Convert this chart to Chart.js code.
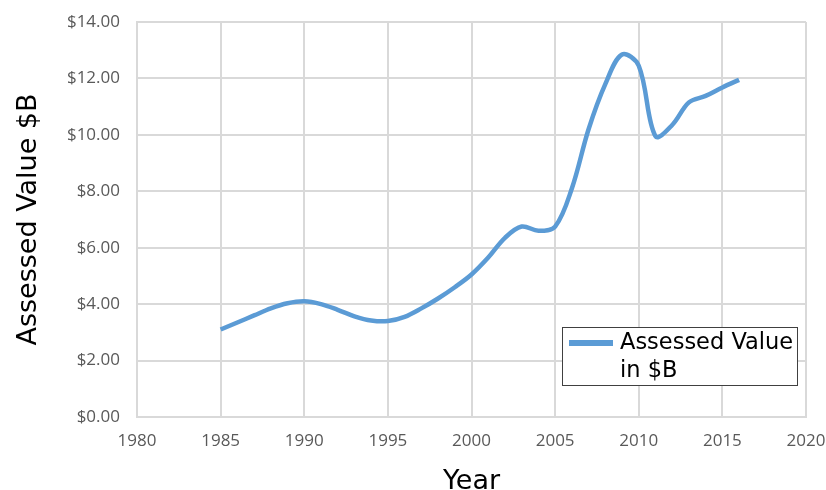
<!DOCTYPE html>
<html>
<head>
<meta charset="utf-8">
<script src="https://cdn.jsdelivr.net/npm/chart.js@4/dist/chart.umd.min.js"></script>
<style>
  html, body { margin: 0; padding: 0; background: #fff; }
  #wrap { width: 826px; height: 490px; }
</style>
</head>
<body>
<div id="wrap"><canvas id="chart"></canvas></div>
<script>
// assessed value by year ($B)
const years = [1985, 1986, 1987, 1988, 1989, 1990, 1991, 1992, 1993, 1994, 1995, 1996, 1997, 1998, 1999, 2000,
               2001, 2002, 2003, 2004, 2005, 2006, 2007, 2008, 2009, 2010, 2011, 2012, 2013, 2014, 2015, 2016];
const values = [3.1, 3.35, 3.6, 3.85, 4.03, 4.1, 4.0, 3.8, 3.57, 3.42, 3.4, 3.55, 3.85, 4.2, 4.6, 5.05,
                5.65, 6.35, 6.75, 6.6, 6.75, 8.1, 10.2, 11.8, 12.85, 12.45, 9.95, 10.35, 11.15, 11.38, 11.68, 11.95];
const seriesLabel = ['Assessed Value', 'in $B'];
const xTicks = [1980, 2020, 5];
const yTicks = [0, 14, 2];

const gridGray = '#d9d9d9';
const tickGray = '#595959';

// legend box drawn inside the plot, bottom right
const insideLegend = {
  id: 'insideLegend',
  afterDraw(chart) {
    const { ctx, chartArea } = chart;
    const right = chartArea.right - 9, bottom = chartArea.bottom - 32;
    const w = 235, h = 58;
    const left = right - w, top = bottom - h;
    ctx.save();
    ctx.fillStyle = '#fff';
    ctx.fillRect(left, top, w, h);
    ctx.strokeStyle = '#404040';
    ctx.lineWidth = 1;
    ctx.strokeRect(left + 0.5, top + 0.5, w, h);
    ctx.strokeStyle = '#5b9bd5';
    ctx.lineWidth = 6;
    ctx.beginPath();
    ctx.moveTo(left + 7, top + 16);
    ctx.lineTo(left + 51, top + 16);
    ctx.stroke();
    ctx.fillStyle = '#000';
    ctx.font = '22.5px "DejaVu Sans"';
    ctx.textBaseline = 'middle';
    ctx.fillText(seriesLabel[0], left + 58, top + 16);
    ctx.fillText(seriesLabel[1], left + 58, top + 44);
    ctx.restore();
  }
};

const data = {
  datasets: [{
    label: seriesLabel.join(' '),
    data: years.map((y, i) => ({ x: y, y: values[i] })),
    borderColor: '#5b9bd5',
    borderWidth: 4.5,
    pointRadius: 0,
    fill: false,
    tension: 0.35
  }]
};

const config = {
  type: 'line',
  data: data,
  options: {
    responsive: true,
    maintainAspectRatio: false,
    animation: false,
    layout: { padding: { top: 22, right: 20, left: 0, bottom: 0 } },
    plugins: {
      legend: { display: false },
      tooltip: { enabled: false }
    },
    scales: {
      x: {
        type: 'linear',
        min: xTicks[0], max: xTicks[1],
        afterFit(scale) { scale.height = 73; scale.paddingLeft = 0; scale.paddingRight = 0; },
        grid: { color: gridGray, lineWidth: 2, drawTicks: false },
        border: { color: gridGray, width: 2 },
        ticks: {
          stepSize: xTicks[2], padding: 14, color: tickGray,
          font: { family: '"Open Sans"', size: 17 },
          callback: v => String(v)
        },
        title: {
          display: true, text: 'Year', color: '#000',
          font: { family: '"DejaVu Sans"', size: 27, lineHeight: 1.0 },
          padding: { top: 4, bottom: -5 }
        }
      },
      y: {
        min: yTicks[0], max: yTicks[1],
        afterFit(scale) { scale.width = 137; scale.paddingTop = 0; scale.paddingBottom = 0; },
        grid: { color: gridGray, lineWidth: 2, drawTicks: false },
        border: { color: gridGray, width: 2 },
        ticks: {
          stepSize: yTicks[2], padding: 17, color: tickGray,
          font: { family: '"Open Sans"', size: 17 },
          callback: v => '$' + v.toFixed(2)
        },
        title: {
          display: true, text: 'Assessed Value $B', color: '#000',
          font: { family: '"DejaVu Sans"', size: 27 },
          padding: { top: 13, bottom: 0 }
        }
      }
    }
  },
  plugins: [insideLegend]
};

const valueChart = new Chart(document.getElementById('chart'), config);
</script>
</body>
</html>
